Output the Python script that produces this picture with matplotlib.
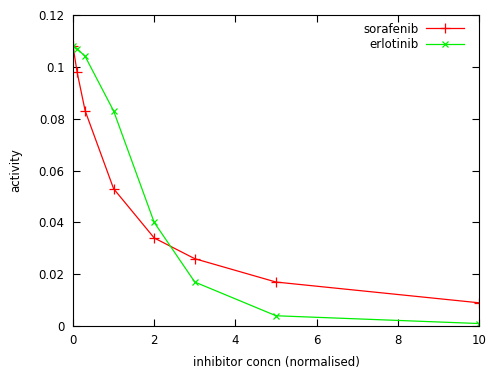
import matplotlib
matplotlib.use("Agg")
import matplotlib.pyplot as plt

sorafenib_x = [0, 0.1, 0.3, 1, 2, 3, 5, 10]
sorafenib_y = [0.108, 0.098, 0.083, 0.053, 0.034, 0.026, 0.017, 0.009]
erlotinib_x = [0, 0.1, 0.3, 1, 2, 3, 5, 10]
erlotinib_y = [0.108, 0.107, 0.104, 0.083, 0.040, 0.017, 0.004, 0.001]
xticks = [0, 2, 4, 6, 8, 10]
yticks = [0, 0.02, 0.04, 0.06, 0.08, 0.1, 0.12]
ytick_labels = ["0", "0.02", "0.04", "0.06", "0.08", "0.1", "0.12"]

fig = plt.figure(figsize=(5, 3.74), dpi=100)
ax = fig.add_axes([0.146, 0.128, 0.812, 0.832])
ax.plot(sorafenib_x, sorafenib_y, color="#ff0000", lw=0.9, marker="+", ms=6.5, mew=0.9, label="sorafenib")
ax.plot(erlotinib_x, erlotinib_y, color="#00ee00", lw=0.9, marker="x", ms=5, mew=0.9, label="erlotinib")
ax.set_xlim(0, 10)
ax.set_ylim(0, 0.12)
ax.set_xticks(xticks)
ax.set_xticklabels([str(t) for t in xticks])
ax.set_yticks(yticks)
ax.set_yticklabels(ytick_labels)
ax.tick_params(direction="in", top=True, right=True, labelsize=8.5, length=5, width=0.8, pad=6)
for s in ax.spines.values():
    s.set_linewidth(0.8)
ax.set_xlabel("inhibitor concn (normalised)", fontsize=8.5, labelpad=6)
ax.set_ylabel("activity", fontsize=8.5, labelpad=12)
ax.legend(loc="upper right", bbox_to_anchor=(1.0, 1.025), frameon=False, markerfirst=False,
          fontsize=8.5, handlelength=3.2, borderaxespad=0.9, labelspacing=0.2, handletextpad=0.6)
fig.savefig("out.png", dpi=100)
